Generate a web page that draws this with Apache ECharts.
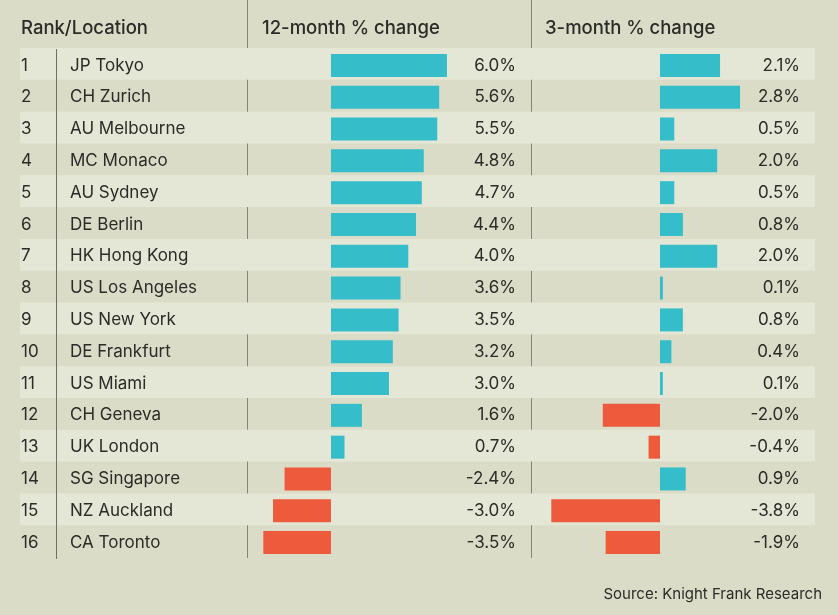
<!DOCTYPE html>
<html>
<head>
<meta charset="utf-8">
<script src="https://cdn.jsdelivr.net/npm/echarts@6/dist/echarts.min.js"></script>
<style>
  html, body { margin: 0; padding: 0; background: #dadcc7; }
  #chart { width: 838px; height: 615px; }
</style>
</head>
<body>
<div id="chart"></div>
<script>
// data
var ranks = ['1','2','3','4','5','6','7','8','9','10','11','12','13','14','15','16'];
var cities = ['JP Tokyo','CH Zurich','AU Melbourne','MC Monaco','AU Sydney','DE Berlin',
  'HK Hong Kong','US Los Angeles','US New York','DE Frankfurt','US Miami','CH Geneva',
  'UK London','SG Singapore','NZ Auckland','CA Toronto'];
var change12 = [6.0,5.6,5.5,4.8,4.7,4.4,4.0,3.6,3.5,3.2,3.0,1.6,0.7,-2.4,-3.0,-3.5];
var change3 = [2.1,2.8,0.5,2.0,0.5,0.8,2.0,0.1,0.8,0.4,0.1,-2.0,-0.4,0.9,-3.8,-1.9];

var UP = '#35bdc9', DOWN = '#ee5a3c', INK = '#2b2b28', FONT = 'Inter';

var dom = document.getElementById('chart');
var myChart = echarts.init(dom);

function pct(v) { return v.toFixed(1) + '%'; }
function barColor(p) { return p.value < 0 ? DOWN : UP; }

function catAxis(grid, pos, opts) {
  var ax = {
    type: 'category', gridIndex: grid, data: ranks, inverse: true, position: pos,
    axisTick: { show: false },
    axisLine: { show: false },
    axisLabel: { show: false }
  };
  for (var k in opts) ax[k] = opts[k];
  return ax;
}
function labelStyle(margin, fmt) {
  return {
    show: true, inside: true, margin: margin, formatter: fmt,
    color: INK, fontSize: 17, fontFamily: FONT
  };
}

// stripes sit at 48; bars and labels sit a touch lower, as in the original
var gridTop = 48, rowTop = 49.5, gridH = 509;
var headStyle = { color: INK, fontSize: 18.5, fontWeight: 500, fontFamily: FONT };

option = {
  backgroundColor: '#dadcc7',
  animation: false,
  title: [
    { text: 'Rank/Location', left: 16, top: 14, textStyle: headStyle },
    { text: '12-month % change', left: 257, top: 14, textStyle: headStyle },
    { text: '3-month % change', left: 540, top: 14, textStyle: headStyle },
    { text: 'Source: Knight Frank Research', right: 11, top: 582, textStyle: { color: INK, fontSize: 15, fontWeight: 'normal', fontFamily: FONT } }
  ],
  grid: [
    { left: 20, top: gridTop, width: 795, height: gridH },   // stripes
    { left: 20, top: rowTop, width: 36, height: gridH },     // rank
    { left: 56, top: rowTop, width: 191, height: gridH },    // location
    { left: 247, top: rowTop, width: 284, height: gridH },   // 12-month
    { left: 531, top: rowTop, width: 284, height: gridH }    // 3-month
  ],
  xAxis: [
    { type: 'value', gridIndex: 0, show: false, min: 0, max: 1 },
    { type: 'value', gridIndex: 1, show: false, min: 0, max: 1 },
    { type: 'value', gridIndex: 2, show: false, min: 0, max: 1 },
    { type: 'value', gridIndex: 3, show: false, min: -4.345, max: 10.35 },
    { type: 'value', gridIndex: 4, show: false, min: -4.51, max: 5.42 }
  ],
  yAxis: [
    catAxis(0, 'left', { splitArea: { show: true, areaStyle: { color: ['#e5e7d6', 'rgba(0,0,0,0)'] } } }),
    catAxis(1, 'left', { axisLabel: labelStyle(1, function (v, i) { return ranks[i]; }) }),
    catAxis(2, 'left', {
      axisLine: { show: true, lineStyle: { color: '#6e6e66', width: 1 } },
      axisLabel: labelStyle(14, function (v, i) { return cities[i]; })
    }),
    catAxis(3, 'left', {}),
    catAxis(3, 'right', { axisLabel: labelStyle(15, function (v, i) { return pct(change12[i]); }) }),
    catAxis(4, 'left', {}),
    catAxis(4, 'right', { axisLabel: labelStyle(15, function (v, i) { return pct(change3[i]); }) })
  ],
  series: [
    {
      name: '12-month % change', type: 'bar', xAxisIndex: 3, yAxisIndex: 3,
      barWidth: 23, data: change12, itemStyle: { color: barColor }
    },
    {
      name: '3-month % change', type: 'bar', xAxisIndex: 4, yAxisIndex: 5,
      barWidth: 23, data: change3, itemStyle: { color: barColor }
    }
  ],
  graphic: [
    { type: 'line', shape: { x1: 247.5, y1: 0, x2: 247.5, y2: 558 }, style: { stroke: '#85857b', lineWidth: 1 } },
    { type: 'line', shape: { x1: 531.5, y1: 0, x2: 531.5, y2: 558 }, style: { stroke: '#85857b', lineWidth: 1 } }
  ]
};

if (option && typeof option === 'object') {
  myChart.setOption(option, true);
}
</script>
</body>
</html>
